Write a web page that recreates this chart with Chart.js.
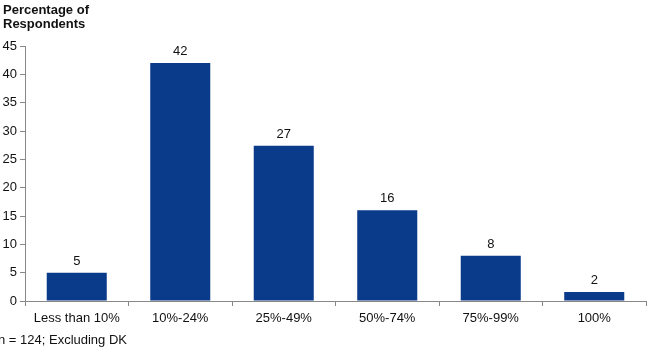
<!DOCTYPE html>
<html>
<head>
<meta charset="utf-8">
<script src="https://cdn.jsdelivr.net/npm/chart.js"></script>
<style>
  body { margin: 0; background: #fff; font-family: "Liberation Sans", Arial, sans-serif; }
  .wrap { position: relative; width: 650px; height: 352px; }
  .title { position: absolute; left: 3px; top: 3px; font-size: 13px; font-weight: bold; line-height: 14px; color: #111; }
  .note { position: absolute; left: -2px; top: 332px; font-size: 13px; color: #111; }
  canvas { position: absolute; left: 0; top: 0; }
</style>
</head>
<body>
<div class="wrap">
  <canvas id="chart" width="650" height="352"></canvas>
  <div class="title">Percentage of<br>Respondents</div>
  <div class="note">n = 124; Excluding DK</div>
</div>
<script>
  const categories = ['Less than 10%', '10%-24%', '25%-49%', '50%-74%', '75%-99%', '100%'];
  const percentages = [5, 42, 27.4, 16, 8, 1.6];
  const yTicks = [0, 5, 10, 15, 20, 25, 30, 35, 40, 45];

  // etiquetas de valor sobre as barras
  const valueLabels = {
    id: 'valueLabels',
    afterDatasetsDraw(chart) {
      const ctx = chart.ctx;
      const meta = chart.getDatasetMeta(0);
      ctx.save();
      ctx.font = '13px "Liberation Sans", Arial, sans-serif';
      ctx.fillStyle = '#111';
      ctx.textAlign = 'center';
      ctx.textBaseline = 'bottom';
      meta.data.forEach((bar, i) => {
        ctx.fillText(Math.round(percentages[i]), bar.x, bar.y - 5);
      });
      ctx.restore();
    }
  };

  new Chart(document.getElementById('chart'), {
    type: 'bar',
    data: {
      labels: categories,
      datasets: [{
        data: percentages,
        backgroundColor: '#0a3a8a',
        barPercentage: 0.58,
        categoryPercentage: 1
      }]
    },
    options: {
      responsive: false,
      animation: false,
      layout: { padding: { top: 46, right: 4, bottom: 0, left: 0 } },
      plugins: { legend: { display: false }, tooltip: { enabled: false } },
      scales: {
        x: {
          offset: true,
          grid: { offset: true, drawOnChartArea: false, drawTicks: true, tickLength: 5, color: '#888' },
          border: { color: '#888' },
          ticks: { color: '#111', font: { size: 13, family: '"Liberation Sans", Arial, sans-serif' }, padding: 5, maxRotation: 0 },
          afterFit(axis) { axis.height = 51; }
        },
        y: {
          min: 0,
          max: 45,
          afterBuildTicks(axis) { axis.ticks = yTicks.map(v => ({ value: v })); },
          grid: { drawOnChartArea: false, drawTicks: true, tickLength: 5, color: '#888' },
          border: { color: '#888' },
          ticks: { color: '#111', font: { size: 13, family: '"Liberation Sans", Arial, sans-serif' }, padding: 3 },
          afterFit(axis) { axis.width = 25; }
        }
      }
    },
    plugins: [valueLabels]
  });
</script>
</body>
</html>
